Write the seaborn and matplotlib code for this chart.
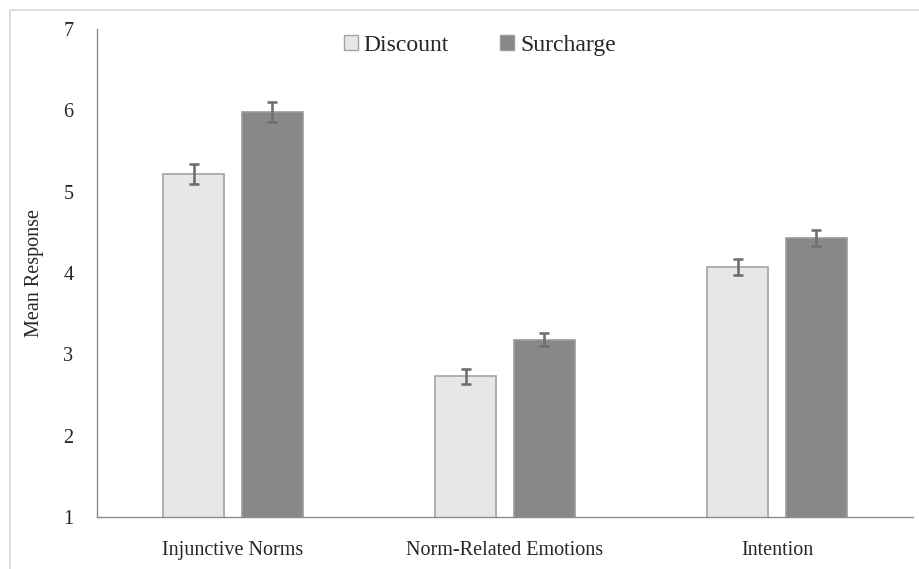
import matplotlib
matplotlib.use("Agg")
import matplotlib.pyplot as plt
from matplotlib.lines import Line2D
from matplotlib.patches import Patch
import seaborn as sns
import pandas as pd

categories = ["Injunctive Norms", "Norm-Related Emotions", "Intention"]
conditions = ["Discount", "Surcharge"]
discount_means = [5.22, 2.73, 4.07]
surcharge_means = [5.98, 3.18, 4.43]
discount_err = [0.12, 0.09, 0.10]
surcharge_err = [0.12, 0.08, 0.10]
y_ticks = [1, 2, 3, 4, 5, 6, 7]

df = pd.DataFrame({
    "Measure": categories * 2,
    "Condition": [conditions[0]] * 3 + [conditions[1]] * 3,
    "Mean": discount_means + surcharge_means,
    "Err": discount_err + surcharge_err,
})

sns.set_theme(style="white")
plt.rcParams["font.family"] = ["Liberation Serif", "DejaVu Serif"]
FS = 14.5

fig = plt.figure(figsize=(9.2, 5.69), dpi=100)
ax = fig.add_axes([97 / 920, 1 - 517 / 569, (913 - 97) / 920, (517 - 29) / 569])

fills = {"Discount": "#e6e7e8", "Surcharge": "#87888c"}
edges = {"Discount": "#a3a3a5", "Surcharge": "#9a9b9e"}

sns.barplot(data=df, x="Measure", y="Mean", hue="Condition", order=categories,
            hue_order=conditions, palette=fills, errorbar=None, width=0.576,
            gap=0.22, ax=ax, legend=False, linewidth=1.2)

# Outline each bar and attach its error bar
for cond, container in zip(conditions, ax.containers):
    errs = df[df["Condition"] == cond].set_index("Measure").loc[categories, "Err"].values
    for patch, e in zip(container.patches, errs):
        patch.set_edgecolor(edges[cond])
        cx = patch.get_x() + patch.get_width() / 2
        top = patch.get_y() + patch.get_height()
        ax.errorbar(cx, top, yerr=e, fmt="none", ecolor="#6f7073",
                    elinewidth=1.9, capsize=3.4, capthick=1.9, zorder=5)

ax.set_ylim(1, 7)
ax.set_yticks(y_ticks)
ax.set_xlim(-0.5, 2.5)
ax.set_xlabel("")
ax.set_ylabel("Mean Response", fontsize=FS, labelpad=14)
ax.tick_params(axis="y", length=0, labelsize=FS, pad=17)
ax.tick_params(axis="x", length=0, labelsize=FS, pad=17)
for side in ["top", "right"]:
    ax.spines[side].set_visible(False)
for side in ["left", "bottom"]:
    ax.spines[side].set_color("#8c8c8c")
    ax.spines[side].set_linewidth(1.0)

handles = [Patch(facecolor=fills[c], edgecolor=edges[c], linewidth=1.0) for c in conditions]
ax.legend(handles, conditions, loc="center", bbox_to_anchor=(0.469, 0.967),
          ncol=2, frameon=False, fontsize=17, handlelength=0.6, handleheight=0.6,
          handletextpad=0.25, columnspacing=2.15)

# Thin frame lines along the top and left of the figure
fig.add_artist(Line2D([10 / 920, 1], [1 - 9.5 / 569] * 2, color="#d8d8d8", lw=1.2,
                      transform=fig.transFigure))
fig.add_artist(Line2D([10 / 920] * 2, [0, 1 - 9.5 / 569], color="#d8d8d8", lw=1.2,
                      transform=fig.transFigure))

fig.savefig("out.png", dpi=100, facecolor="white")
